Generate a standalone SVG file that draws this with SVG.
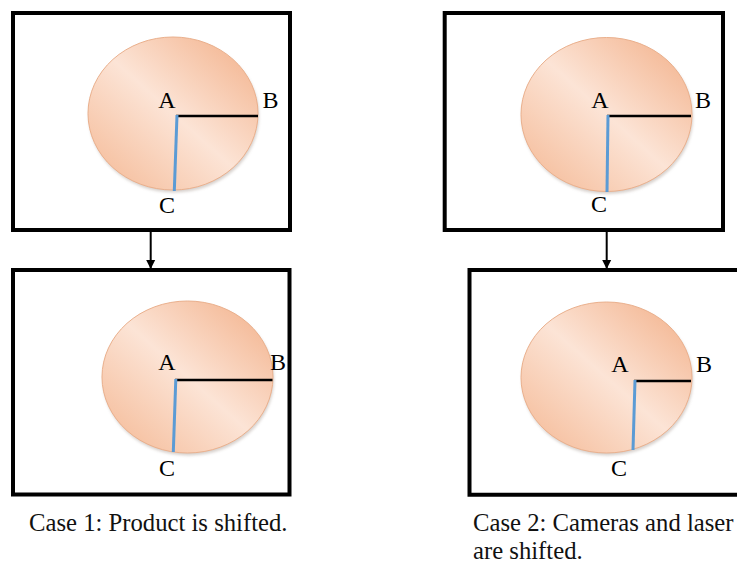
<svg xmlns="http://www.w3.org/2000/svg" width="737" height="566" viewBox="0 0 737 566">
<style>
.box{fill:none;stroke:#000;stroke-width:4}
.disc{fill:url(#peach);stroke:#eab08d;stroke-width:1}
.shadow{fill:#9a8a80;opacity:0.4;filter:url(#blur)}
.rb{stroke:#000;stroke-width:2.5;fill:none}
.rc{stroke:#5b9bd5;stroke-width:3;fill:none}
.lbl{font-family:'Liberation Serif',serif;font-size:24px;fill:#000;text-anchor:middle}
.cap{font-family:'Liberation Serif',serif;font-size:24.7px;fill:#111}
.conn{stroke:#000;stroke-width:2;fill:none}
</style>
<defs>
<linearGradient id="peach" x1="1" y1="0" x2="0" y2="1">
<stop offset="0" stop-color="#f2ae86"/>
<stop offset="0.5" stop-color="#fce4d6"/>
<stop offset="1" stop-color="#f4b792"/>
</linearGradient>
<filter id="blur" x="-20%" y="-20%" width="140%" height="140%"><feGaussianBlur stdDeviation="1.5"/></filter>
<marker id="arr" markerWidth="9" markerHeight="10" refX="8" refY="4.5" orient="auto" markerUnits="userSpaceOnUse" viewBox="0 0 9 9">
<path d="M0,0 L9,4.5 L0,9 Z" fill="#000"/>
</marker>
</defs>
<g id="case1-before">
<rect class="box" x="13" y="13" width="277" height="217"/>
<ellipse class="shadow" cx="174" cy="116" rx="85" ry="76.5"/>
<ellipse class="disc" cx="173" cy="113.5" rx="85" ry="76.5"/>
<line class="rb" x1="176" y1="116" x2="258" y2="116"/>
<line class="rc" x1="177" y1="115" x2="174.3" y2="191"/>
<text class="lbl" x="167" y="108">A</text>
<text class="lbl" x="270.5" y="108">B</text>
<text class="lbl" x="167" y="213">C</text>
</g>
<g id="case1-after">
<rect class="box" x="13" y="270" width="276.5" height="224.5"/>
<ellipse class="shadow" cx="188.5" cy="379.5" rx="85.5" ry="76"/>
<ellipse class="disc" cx="187.5" cy="377" rx="85.5" ry="76"/>
<line class="rb" x1="175" y1="380" x2="272.5" y2="380"/>
<line class="rc" x1="175.8" y1="379" x2="173.3" y2="452"/>
<text class="lbl" x="167" y="370">A</text>
<text class="lbl" x="278" y="370">B</text>
<text class="lbl" x="167" y="476">C</text>
</g>
<g id="case2-before">
<rect class="box" x="444.7" y="13" width="278.3" height="217"/>
<ellipse class="shadow" cx="607.5" cy="117" rx="85.5" ry="77"/>
<ellipse class="disc" cx="606.5" cy="114.5" rx="85.5" ry="77"/>
<line class="rb" x1="607" y1="116" x2="691" y2="116"/>
<line class="rc" x1="608" y1="115" x2="607" y2="192"/>
<text class="lbl" x="600" y="108">A</text>
<text class="lbl" x="703" y="108">B</text>
<text class="lbl" x="599" y="212">C</text>
</g>
<g id="case2-after">
<path class="box" d="M745,270 H469.5 V494.7 H745"/>
<ellipse class="shadow" cx="607.5" cy="380" rx="85.5" ry="75.5"/>
<ellipse class="disc" cx="606.5" cy="377.5" rx="85.5" ry="75.5"/>
<line class="rb" x1="634" y1="381" x2="691" y2="381"/>
<line class="rc" x1="635" y1="380" x2="633" y2="450"/>
<text class="lbl" x="620" y="372">A</text>
<text class="lbl" x="704" y="372">B</text>
<text class="lbl" x="619" y="476">C</text>
</g>
<g id="connectors">
<line class="conn" x1="150.7" y1="232" x2="150.7" y2="268" marker-end="url(#arr)"/>
<line class="conn" x1="606.7" y1="232" x2="606.7" y2="268" marker-end="url(#arr)"/>
</g>
<g id="captions">
<text class="cap" x="29" y="531">Case 1: Product is shifted.</text>
<text class="cap" x="473" y="531">Case 2: Cameras and laser</text>
<text class="cap" x="473" y="559">are shifted.</text>
</g>
</svg>
